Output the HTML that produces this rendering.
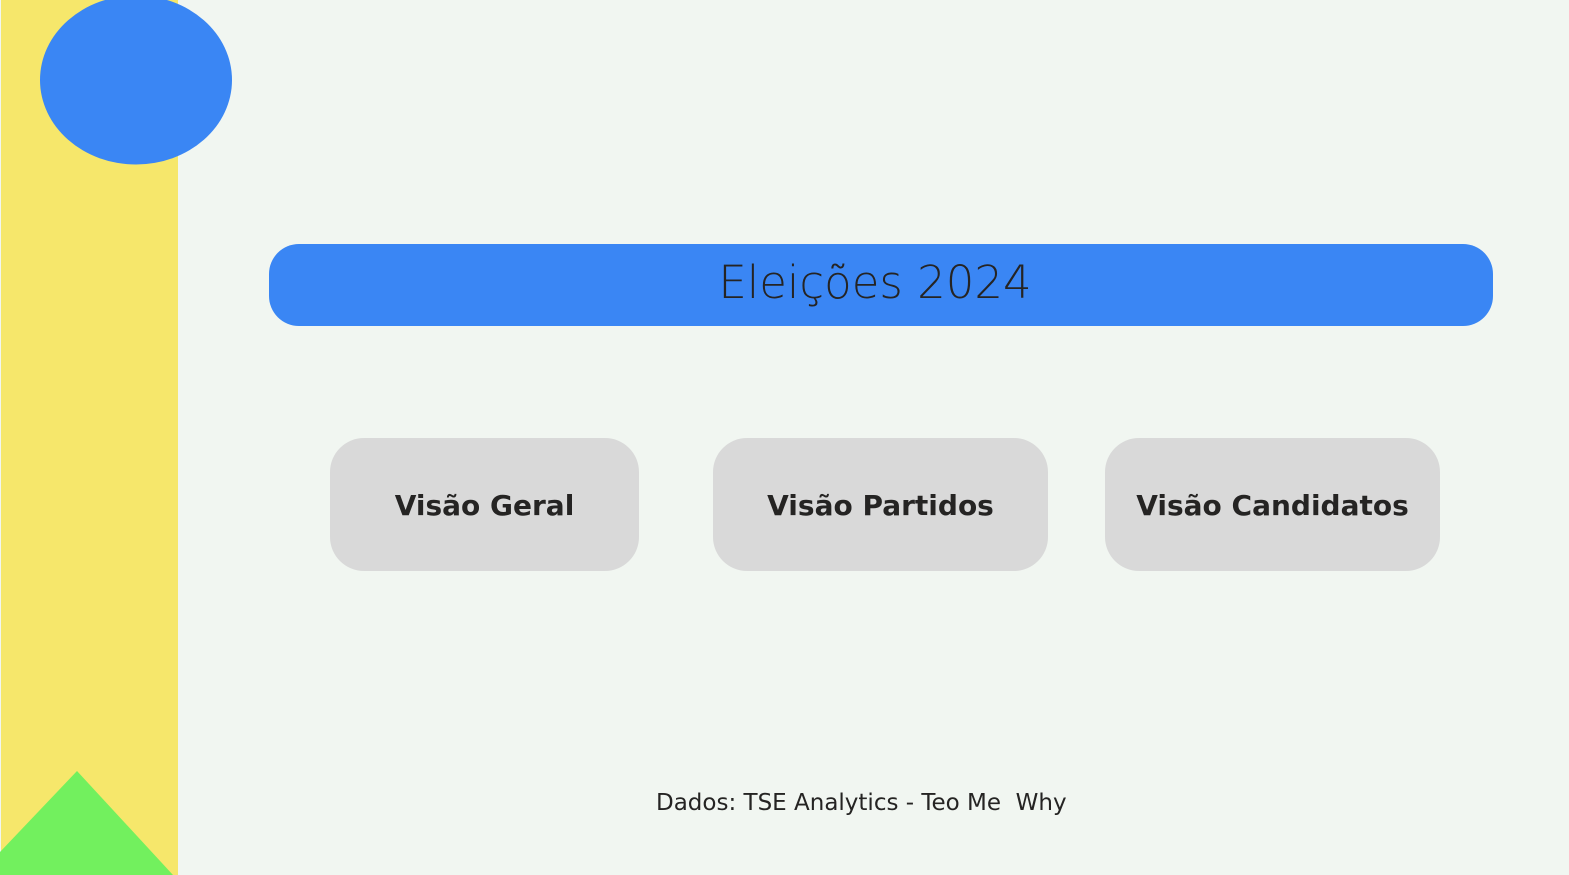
<!DOCTYPE html>
<html><head><meta charset="utf-8"><style>
html,body{margin:0;padding:0}
body{width:1569px;height:875px;background:#f1f6f1;position:relative;overflow:hidden;font-family:"DejaVu Sans","Liberation Sans",sans-serif;color:#252423}
.y{position:absolute;left:1px;top:0;width:177px;height:875px;background:#f6e76b}
svg{position:absolute;left:0;top:0}
.t{position:absolute;left:269px;top:244px;width:1212px;padding-right:12px;height:82px;background:#3a86f4;border-radius:30px;text-align:center;line-height:78px;font-size:45px;font-weight:300;color:#252423}
.b{position:absolute;top:438px;height:133px;background:#d9d9d9;border-radius:34px;text-align:center;line-height:136px;font-size:28px;font-weight:bold}
.f{position:absolute;left:656px;top:790px;font-size:23px;white-space:pre}
</style></head><body>
<div class="y"></div>
<svg width="1569" height="875">
<ellipse cx="136" cy="80" rx="96" ry="84.5" fill="#3a86f4"/>
<polygon points="0,852 77,771 173,875 0,875" fill="#72f05e"/>
</svg>
<div class="t">Eleições 2024</div>
<div class="b" style="left:330px;width:309px">Visão Geral</div>
<div class="b" style="left:713px;width:335px">Visão Partidos</div>
<div class="b" style="left:1105px;width:335px">Visão Candidatos</div>
<div class="f">Dados: TSE Analytics - Teo Me  Why</div>
</body></html>
